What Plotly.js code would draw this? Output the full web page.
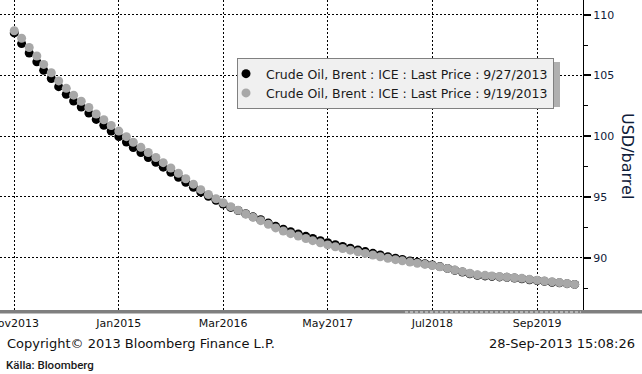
<!DOCTYPE html>
<html>
<head>
<meta charset="utf-8">
<script src="https://cdn.plot.ly/plotly-3.0.1.min.js"></script>
<style>
  html, body { margin: 0; padding: 0; background: #ffffff; }
  #chart { width: 642px; height: 374px; }
</style>
</head>
<body>
<div id="chart"></div>
<script>
// ---- Data ----
const firstContract = { year: 2013, month: 11 };   // Nov 2013 contract
const seriesNames = [
  'Crude Oil, Brent : ICE : Last Price : 9/27/2013',
  'Crude Oil, Brent : ICE : Last Price : 9/19/2013'
];
// Last price 27 Sep 2013, monthly contracts Nov2013 .. Feb2020 (USD/barrel)
const brent_20130927 = [
  108.50, 107.62, 106.85, 106.12, 105.42, 104.75, 104.08, 103.45, 102.90, 102.40,
  101.90, 101.38, 100.90, 100.43,  99.97,  99.52,  99.07,  98.66,  98.25,  97.85,
   97.45,  97.03,  96.62,  96.20,  95.80,  95.40,  95.05,  94.72,  94.42,  94.14,
   93.88,  93.62,  93.36,  93.12,  92.85,  92.58,  92.35,  92.14,  91.95,  91.76,
   91.58,  91.40,  91.23,  91.07,  90.92,  90.78,  90.64,  90.50,  90.36,  90.22,
   90.08,  89.96,  89.85,  89.73,  89.62,  89.50,  89.40,  89.27,  89.12,  88.96,
   88.82,  88.68,  88.55,  88.50,  88.46,  88.42,  88.38,  88.33,  88.27,  88.18,
   88.12,  88.06,  87.98,  87.93,  87.86,  87.80
];
// Last price 19 Sep 2013, same contracts
const brent_20130919 = [
  108.68, 108.06, 107.30, 106.60, 105.91, 105.22, 104.55, 103.94, 103.38, 102.88,
  102.36, 101.83, 101.35, 100.88, 100.42,  99.96,  99.50,  99.08,  98.66,  98.25,
   97.82,  97.38,  96.95,  96.50,  96.05,  95.60,  95.20,  94.85,  94.52,  94.20,
   93.90,  93.60,  93.32,  93.05,  92.75,  92.45,  92.20,  91.98,  91.78,  91.58,
   91.40,  91.22,  91.05,  90.90,  90.76,  90.62,  90.48,  90.35,  90.22,  90.08,
   89.95,  89.84,  89.74,  89.64,  89.54,  89.45,  89.36,  89.25,  89.12,  88.98,
   88.85,  88.72,  88.60,  88.55,  88.50,  88.45,  88.40,  88.35,  88.30,  88.22,
   88.15,  88.08,  88.02,  87.95,  87.88,  87.80
];
const yTickValues = [90, 95, 100, 105, 110];
const yAxisTitle = 'USD/barrel';
const copyrightText = 'Copyright\u00A9 2013 Bloomberg Finance L.P.';
const timestampText = '28-Sep-2013 15:08:26';
const sourceText = 'K\u00E4lla: Bloomberg';

// contract months (category positions along the date axis)
const contractMonths = brent_20130919.map((_, i) => {
  const m0 = firstContract.month - 1 + i;
  const y = firstContract.year + Math.floor(m0 / 12);
  const m = (m0 % 12) + 1;
  return y + '-' + String(m).padStart(2, '0') + '-01';
});

// ---- Layout geometry (pixels) ----
const W = 642, H = 374;
const plotW = 583, plotH = 312;
const px = v => v / plotW;          // pixel x -> paper x
const py = v => 1 - v / plotH;      // pixel y -> paper y

const FONT = 'DejaVu Sans, Liberation Sans, sans-serif';

const traces = [
  {
    x: contractMonths, y: brent_20130927, name: seriesNames[0],
    type: 'scatter', mode: 'markers',
    marker: { color: '#000000', size: 9, line: { width: 0 } },
    hoverinfo: 'skip'
  },
  {
    x: contractMonths, y: brent_20130919, name: seriesNames[1],
    type: 'scatter', mode: 'markers',
    marker: { color: '#a8a8a8', size: 9, line: { width: 0 } },
    hoverinfo: 'skip'
  }
];

const layout = {
  width: W, height: H,
  margin: { l: 0, r: W - plotW, t: 0, b: H - plotH, pad: 0 },
  paper_bgcolor: '#ffffff', plot_bgcolor: '#ffffff',
  font: { family: FONT, size: 11, color: '#111111' },
  showlegend: true,
  legend: {
    x: px(237), y: py(58), xanchor: 'left', yanchor: 'top',
    bgcolor: '#f0f0f0', bordercolor: '#808080', borderwidth: 1,
    font: { family: FONT, size: 12.5, color: '#1a1a1a' },
    itemwidth: 30, tracegroupgap: 0, indentation: -12
  },
  xaxis: {
    type: 'date',
    range: ['2013-09-04', '2020-03-06'],
    tick0: contractMonths[0], dtick: 'M14', tickformat: '%b%Y',
    showgrid: true, gridcolor: '#000000', gridwidth: 1, griddash: '2px,2px',
    zeroline: false, showline: false, ticks: '',
    ticklabeloverflow: 'allow', ticklabelstandoff: 3,
    tickfont: { family: FONT, size: 11, color: '#111111' },
    fixedrange: true
  },
  yaxis: {
    side: 'right',
    range: [85.53, 111.21],
    tickvals: yTickValues,
    showgrid: true, gridcolor: '#000000', gridwidth: 1, griddash: '2px,2px',
    zeroline: false,
    showline: true, linecolor: '#000000', linewidth: 1,
    ticks: 'outside', ticklen: 7, tickwidth: 2, tickcolor: '#000000',
    minor: { dtick: 2.5, tick0: 85, ticks: 'outside', ticklen: 4, tickwidth: 1, tickcolor: '#000000', showgrid: false },
    tickfont: { family: FONT, size: 11, color: '#10203a' },
    fixedrange: true
  },
  shapes: [
    // legend drop shadow
    { type: 'rect', xref: 'paper', yref: 'paper', layer: 'above',
      x0: px(241), x1: px(560), y0: py(107), y1: py(62),
      fillcolor: '#b0b0b0', line: { width: 0 } },
    // bottom gray bar
    { type: 'rect', xref: 'paper', yref: 'paper', layer: 'above',
      x0: 0, x1: W / plotW, y0: py(313.5), y1: py(310),
      fillcolor: '#7f7f7f', line: { width: 0 } },
    { type: 'line', xref: 'paper', yref: 'paper', layer: 'above',
      x0: px(405), x1: px(581), y0: py(312), y1: py(312),
      line: { color: '#e8e8e8', width: 1, dash: '3px,2px' } }
  ],
  annotations: [
    { text: yAxisTitle, xref: 'paper', yref: 'paper', x: px(628), y: py(156),
      xanchor: 'center', yanchor: 'middle', textangle: 90, showarrow: false,
      font: { family: FONT, size: 16, color: '#10203a' } },
    { text: copyrightText, xref: 'paper', yref: 'paper', x: px(5), y: py(343),
      xanchor: 'left', yanchor: 'middle', showarrow: false,
      font: { family: FONT, size: 13, color: '#111111' } },
    { text: timestampText, xref: 'paper', yref: 'paper', x: px(637), y: py(343),
      xanchor: 'right', yanchor: 'middle', showarrow: false,
      font: { family: FONT, size: 13, color: '#111111' } },
    { text: sourceText, xref: 'paper', yref: 'paper', x: px(4), y: py(365),
      xanchor: 'left', yanchor: 'middle', showarrow: false,
      font: { family: 'Roboto, Liberation Sans, sans-serif', size: 11.5, weight: 500, color: '#1a1a1a' } }
  ]
};

Plotly.newPlot('chart', traces, layout, { staticPlot: true, displayModeBar: false });
</script>
</body>
</html>
